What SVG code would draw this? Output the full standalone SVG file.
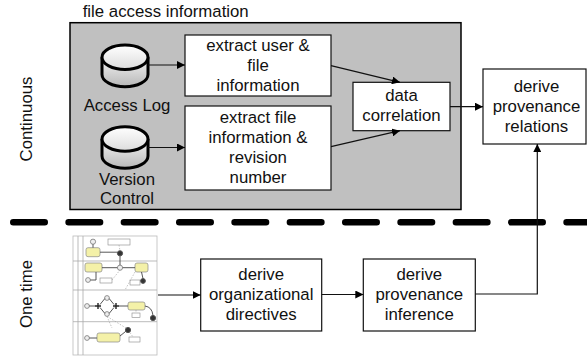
<svg xmlns="http://www.w3.org/2000/svg" width="587" height="356" viewBox="0 0 587 356">
  <style>
    .t { font-family: "Liberation Sans", Arial, sans-serif; font-size: 16.8px; fill: #111; text-anchor: middle; }
    .tl { font-family: "Liberation Sans", Arial, sans-serif; font-size: 16.8px; fill: #111; }
    .box { fill: #ffffff; stroke: #111; stroke-width: 1.2; }
    .conn { fill: none; stroke: #111; stroke-width: 1.2; }
    .cyl { stroke: #000; stroke-width: 3; }
    .lane { fill: none; stroke: #aaa; stroke-width: 0.8; }
    .task { fill: #f4f1a8; stroke: #888; stroke-width: 0.7; }
    .ev { fill: #eee; stroke: #777; stroke-width: 0.8; }
    .evend { fill: #333; stroke: #555; stroke-width: 1; }
    .doc { fill: #fff; stroke: #888; stroke-width: 0.6; }
    .flow { fill: none; stroke: #444; stroke-width: 0.9; }
    .assoc { fill: none; stroke: #999; stroke-width: 0.6; stroke-dasharray: 1.5 1.5; }
  </style>
  <defs>
    <marker id="arrow" viewBox="0 0 10 10" refX="10" refY="5" markerWidth="8" markerHeight="8" markerUnits="userSpaceOnUse" orient="auto">
      <path d="M0,0 L10,5 L0,10 z" fill="#000"/>
    </marker>
    <linearGradient id="cylBody" x1="0" y1="0" x2="0" y2="1">
      <stop offset="0" stop-color="#f4f4f4"/>
      <stop offset="1" stop-color="#b8b8b8"/>
    </linearGradient>
    <linearGradient id="cylTop" x1="0" y1="0" x2="0" y2="1">
      <stop offset="0" stop-color="#ffffff"/>
      <stop offset="1" stop-color="#dcdcdc"/>
    </linearGradient>
  </defs>

  <!-- Lane labels -->
  <g id="lane-labels">
    <text class="t" transform="translate(32,119) rotate(-90)">Continuous</text>
    <text class="t" transform="translate(32,294) rotate(-90)">One time</text>
  </g>

  <!-- Separator -->
  <g id="separator">
    <path d="M13.25,222.3 H587" fill="none" stroke="#000" stroke-width="6.5" stroke-linecap="round" stroke-dasharray="31.5 23.83"/>
  </g>

  <!-- Container -->
  <g id="file-access-information">
    <rect x="70" y="22.7" width="391" height="186.8" fill="#c0c0c0" stroke="#000" stroke-width="1.5"/>
    <text class="tl" x="82.7" y="17.3">file access information</text>
  </g>

  <g id="access-log">
    <path class="cyl" d="M102,57.2 V74.5 A23,12.2 0 0 0 148,74.5 V57.2" fill="url(#cylBody)"/>
    <ellipse class="cyl" cx="125" cy="57.2" rx="23" ry="12.2" fill="url(#cylTop)"/>
    <text class="t" x="127" y="110.7">Access Log</text>
  </g>

  <g id="version-control">
    <path class="cyl" d="M102,139 V156 A23,12.2 0 0 0 148,156 V139" fill="url(#cylBody)"/>
    <ellipse class="cyl" cx="125" cy="139" rx="23" ry="12.2" fill="url(#cylTop)"/>
    <text class="t" x="127" y="185">Version</text>
    <text class="t" x="127" y="203.5">Control</text>
  </g>

  <g id="extract-user-file">
    <rect class="box" x="185" y="35" width="146" height="61"/>
    <text class="t" x="258" y="50.7">extract user &amp;</text>
    <text class="t" x="258" y="70.7">file</text>
    <text class="t" x="258" y="90.7">information</text>
  </g>

  <g id="extract-file-revision">
    <rect class="box" x="185" y="106" width="146" height="84"/>
    <text class="t" x="258" y="122.5">extract file</text>
    <text class="t" x="258" y="142.5">information &amp;</text>
    <text class="t" x="258" y="162.5">revision</text>
    <text class="t" x="258" y="182.5">number</text>
  </g>

  <g id="data-correlation">
    <rect class="box" x="353" y="82.3" width="97" height="48.4"/>
    <text class="t" x="401.5" y="100.8">data</text>
    <text class="t" x="401.5" y="120.8">correlation</text>
  </g>

  <g id="derive-provenance-relations">
    <rect class="box" x="483" y="69" width="103" height="75"/>
    <text class="t" x="536.5" y="91.7">derive</text>
    <text class="t" x="536.5" y="111.7">provenance</text>
    <text class="t" x="536.5" y="131.7">relations</text>
  </g>

  <g id="process-model-thumbnail">
    <rect x="73" y="236" width="84" height="119" fill="#fff" stroke="#bbb" stroke-width="0.8"/>
    <line class="lane" x1="73" y1="261" x2="157" y2="261"/>
    <line class="lane" x1="73" y1="290" x2="157" y2="290"/>
    <line class="lane" x1="73" y1="321.7" x2="157" y2="321.7"/>
    <line class="lane" x1="78" y1="236" x2="78" y2="355"/>
    <line class="lane" x1="83" y1="236" x2="83" y2="355"/>
    <!-- lane 1 -->
    <circle class="ev" cx="93" cy="241.7" r="2.6"/>
    <rect class="task" x="86" y="247.7" width="14" height="9" rx="2"/>
    <rect class="doc" x="108" y="239" width="22" height="6"/>
    <circle class="evend" cx="120" cy="253.3" r="2.6"/>
    <path class="flow" d="M93,244.3 V247.7 M100,252.2 H117.4"/>
    <path class="assoc" d="M119,245 L120,250.7"/>
    <!-- lane 2 -->
    <rect class="task" x="85" y="263" width="17" height="9" rx="2"/>
    <circle class="ev" cx="120" cy="267.7" r="2.6"/>
    <rect class="task" x="135" y="263" width="13" height="9" rx="2"/>
    <circle class="ev" cx="88" cy="280" r="2.4"/>
    <rect class="doc" x="100" y="278" width="12" height="5"/>
    <rect class="doc" x="130" y="280" width="10" height="5"/>
    <circle class="evend" cx="143" cy="281" r="2.4"/>
    <path class="flow" d="M102,267.7 H117.4 M122.6,267.7 H135 M120,256 V265.1 M90.4,280 H96 V272 M141.5,272 L143,278.6"/>
    <path class="assoc" d="M112,280 L120,270 M140,282 H140.6 M135,272 L125,290"/>
    <!-- lane 3 -->
    <circle class="ev" cx="87" cy="306" r="2.4"/>
    <path d="M98,303 V309 M95,306 H101" stroke="#222" stroke-width="1.4"/>
    <circle class="ev" cx="107" cy="298" r="2.4"/>
    <circle class="ev" cx="107" cy="314" r="2.4"/>
    <path d="M116,303 V309 M113,306 H119" stroke="#222" stroke-width="1.4"/>
    <rect class="task" x="128" y="302" width="17" height="8" rx="2"/>
    <rect class="doc" x="132" y="313" width="8" height="4.5"/>
    <circle class="evend" cx="153" cy="318" r="2.6"/>
    <path class="flow" d="M89.4,306 H95 M100,304.5 L104.8,298.6 M100,307.5 L104.8,313.4 M109.2,298.6 L114,304.5 M109.2,313.4 L114,307.5 M119,306 H128 M145,306 Q152,307 153,315.4"/>
    <path class="assoc" d="M107,316.4 L112,328 M136,310 V313"/>
    <!-- lane 4 -->
    <circle class="ev" cx="87" cy="338" r="2.4"/>
    <rect class="task" x="97" y="333" width="23" height="9" rx="2"/>
    <circle class="evend" cx="128" cy="330" r="2.6"/>
    <rect class="doc" x="129" y="337" width="11" height="5"/>
    <path class="flow" d="M89.4,338 H97 M120,336 L125.8,331.3"/>
    <path class="assoc" d="M107,316.4 L126,328 M130,332.6 L133,337"/>
  </g>

  <g id="derive-organizational-directives">
    <rect class="box" x="200.7" y="259" width="121" height="72"/>
    <text class="t" x="261.2" y="280.2">derive</text>
    <text class="t" x="261.2" y="300.2">organizational</text>
    <text class="t" x="261.2" y="320.2">directives</text>
  </g>

  <g id="derive-provenance-inference">
    <rect class="box" x="363.3" y="259" width="112" height="72"/>
    <text class="t" x="419.3" y="280.2">derive</text>
    <text class="t" x="419.3" y="300.2">provenance</text>
    <text class="t" x="419.3" y="320.2">inference</text>
  </g>

  <g id="connectors">
    <line class="conn" x1="148" y1="65" x2="185" y2="65" marker-end="url(#arrow)"/>
    <line class="conn" x1="148" y1="147.5" x2="185" y2="147.5" marker-end="url(#arrow)"/>
    <line class="conn" x1="331" y1="65.7" x2="400" y2="82.3" marker-end="url(#arrow)"/>
    <line class="conn" x1="331" y1="146.7" x2="400" y2="130.7" marker-end="url(#arrow)"/>
    <line class="conn" x1="450" y1="106.7" x2="483" y2="106.7" marker-end="url(#arrow)"/>
    <line class="conn" x1="158" y1="295" x2="200.7" y2="295" marker-end="url(#arrow)"/>
    <line class="conn" x1="321.7" y1="294.5" x2="363.3" y2="294.5" marker-end="url(#arrow)"/>
    <polyline class="conn" points="475.3,294 537.3,294 537.3,144" marker-end="url(#arrow)"/>
  </g>
</svg>
